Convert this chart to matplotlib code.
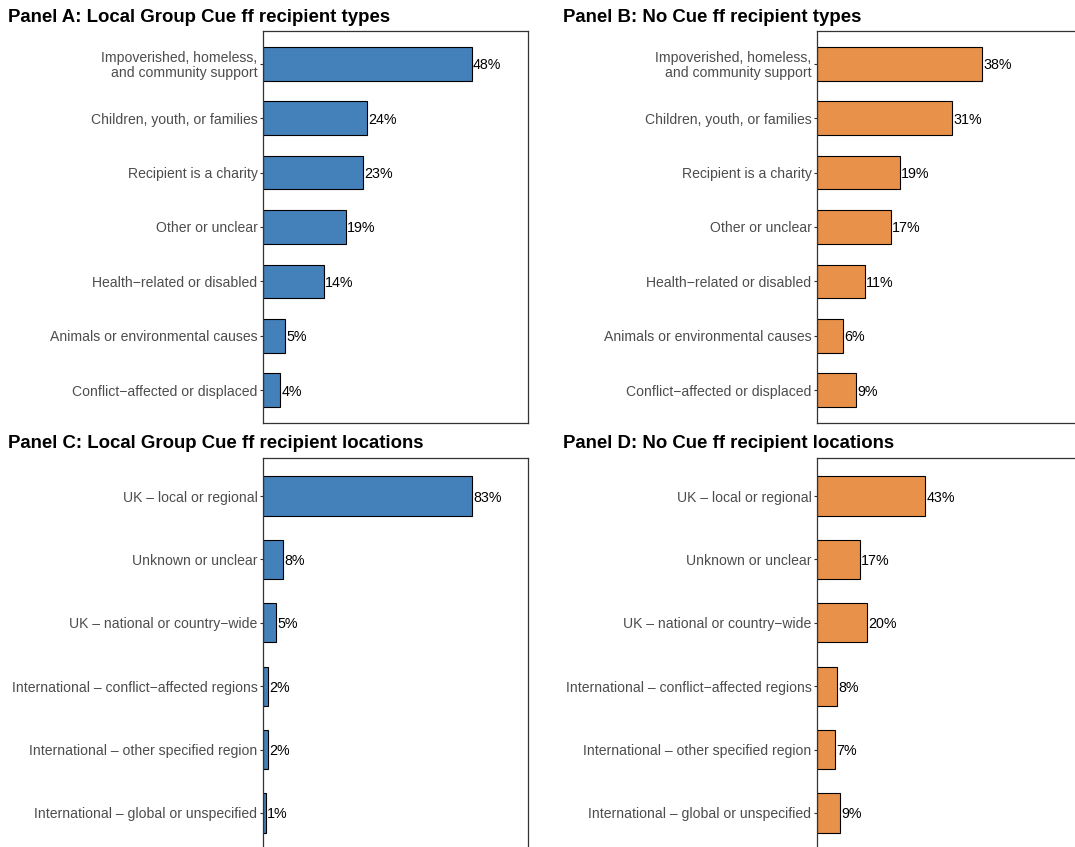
import matplotlib
matplotlib.use("Agg")
import matplotlib.pyplot as plt
import numpy as np

plt.rcParams['font.family'] = ['Liberation Sans', 'DejaVu Sans']

type_cats = [
    "Impoverished, homeless,\nand community support",
    "Children, youth, or families",
    "Recipient is a charity",
    "Other or unclear",
    "Health\u2212related or disabled",
    "Animals or environmental causes",
    "Conflict\u2212affected or displaced",
]
type_local = [48, 24, 23, 19, 14, 5, 4]
type_nocue = [38, 31, 19, 17, 11, 6, 9]

loc_cats = [
    "UK \u2013 local or regional",
    "Unknown or unclear",
    "UK \u2013 national or country\u2212wide",
    "International \u2013 conflict\u2212affected regions",
    "International \u2013 other specified region",
    "International \u2013 global or unspecified",
]
loc_local = [83, 8, 5, 2, 2, 1]
loc_nocue = [43, 17, 20, 8, 7, 9]

titles = [
    "Panel A: Local Group Cue ff recipient types",
    "Panel B: No Cue ff recipient types",
    "Panel C: Local Group Cue ff recipient locations",
    "Panel D: No Cue ff recipient locations",
]

BLUE = "#4480BA"
ORANGE = "#E8914A"

W, H = 1075, 847
fig = plt.figure(figsize=(W / 100, H / 100), dpi=100)


def px_axes(left, top, width, height):
    return fig.add_axes([left / W, 1 - (top + height) / H, width / W, height / H])


def draw(ax, cats, vals, color, xmax, title, title_x, title_y):
    n = len(cats)
    y = np.arange(n)[::-1] + 1
    ax.barh(y, vals, height=0.62, color=color, edgecolor="black", linewidth=0.8, zorder=2)
    for yi, v in zip(y, vals):
        ax.annotate(f"{v}%", (v, yi), xytext=(1, 0), textcoords="offset points",
                    ha="left", va="center_baseline", fontsize=10.3, color="black")
    ax.set_ylim(0.4, n + 0.6)
    ax.set_xlim(0, xmax)
    ax.set_yticks(y)
    ax.set_yticklabels(cats, fontsize=10.1, color="#4D4D4D", linespacing=1.1)
    ax.tick_params(axis="y", length=2.5, width=0.8, color="#333333", pad=1.5)
    ax.set_xticks([])
    for s in ax.spines.values():
        s.set_color("#333333")
        s.set_linewidth(0.9)
    fig.text(title_x / W, 1 - title_y / H, title, fontsize=13.4, fontweight="bold",
             ha="left", va="center", color="black")


top_max = max(max(type_local), max(type_nocue)) * 1.27
bot_max = max(max(loc_local), max(loc_nocue)) * 1.27

axA = px_axes(263, 31, 265, 392)
axB = px_axes(817, 31, 265, 392)
axC = px_axes(263, 458, 265, 393)
axD = px_axes(817, 458, 265, 393)

draw(axA, type_cats, type_local, BLUE, top_max, titles[0], 8, 17.5)
draw(axB, type_cats, type_nocue, ORANGE, top_max, titles[1], 563, 17.5)
draw(axC, loc_cats, loc_local, BLUE, bot_max, titles[2], 8, 443.5)
draw(axD, loc_cats, loc_nocue, ORANGE, bot_max, titles[3], 563, 443.5)

fig.savefig("out.png", dpi=100)
